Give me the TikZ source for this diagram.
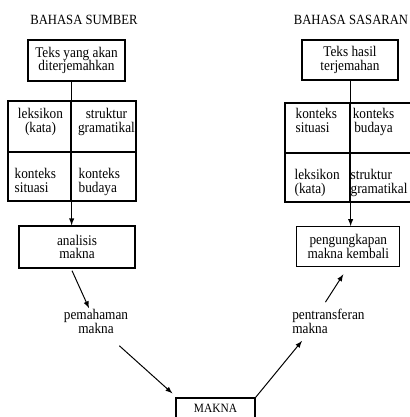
\documentclass[tikz,border=0pt]{standalone}
\usepackage{fontspec}
\setmainfont[FakeStretch=0.9]{Liberation Serif}
\usetikzlibrary{calc}
\begin{document}
\begin{tikzpicture}[x=0.025cm,y=-0.025cm,
        box/.style={draw,line width=0.9pt,align=center,inner sep=0pt,font=\fontsize{10.5}{9.7}\selectfont},
        cell/.style={draw,line width=0.9pt,inner sep=0pt},
        txt/.style={inner sep=0pt,font=\fontsize{10.5}{9.7}\selectfont},
        title/.style={inner sep=0pt,font=\fontsize{10}{10}\selectfont},
        arr/.style={->,>=latex,line width=0.7pt}]
    \useasboundingbox (0,0) rectangle (410,417);
    \clip (0,0) rectangle (410,417);
    % bahasa sumber
    \node[title] (bs) at (84,20) {BAHASA SUMBER};
    \node[box,minimum width=2.425cm,minimum height=1.025cm] (tsa) at (76.5,60.5) {Teks yang akan\\diterjemahkan};
    \node[cell,minimum width=1.575cm,minimum height=1.275cm] (s11) at (39.5,126.5) {};
    \node[cell,minimum width=1.625cm,minimum height=1.275cm] (s12) at (103.5,126.5) {};
    \node[cell,minimum width=1.575cm,minimum height=1.225cm] (s21) at (39.5,176.5) {};
    \node[cell,minimum width=1.625cm,minimum height=1.225cm] (s22) at (103.5,176.5) {};
    \node[txt,align=center,anchor=north] (lk1) at ($(s11.north)+(1,8)$) {leksikon\\(kata)};
    \node[txt,align=center,anchor=north] (sg1) at ($(s12.north)+(3,8)$) {struktur\\gramatikal};
    \node[txt,align=left,anchor=north west] (ks1) at ($(s21.north west)+(7,17)$) {konteks\\situasi};
    \node[txt,align=left,anchor=north west] (kb1) at ($(s22.north west)+(8,17)$) {konteks\\budaya};
    \node[box,minimum width=2.9cm,minimum height=1.05cm] (ana) at (77,247) {analisis\\makna};
    \node[txt,align=center] (pem) at (96,321.5) {pemahaman\\makna};
    % makna
    \node[box,font=\fontsize{9}{9}\selectfont,minimum width=1.975cm,minimum height=0.525cm] (mak) at (215.5,408.5) {MAKNA};
    % bahasa sasaran
    \node[title] (bsa) at (351,20) {BAHASA SASARAN};
    \node[box,minimum width=2.4cm,minimum height=1cm] (tth) at (350,60) {Teks hasil\\terjemahan};
    \node[cell,minimum width=1.625cm,minimum height=1.25cm] (t11) at (317.5,128) {};
    \node[cell,minimum width=1.625cm,minimum height=1.25cm] (t12) at (382.5,128) {};
    \node[cell,minimum width=1.625cm,minimum height=1.225cm] (t21) at (317.5,177.5) {};
    \node[cell,minimum width=1.625cm,minimum height=1.225cm] (t22) at (382.5,177.5) {};
    \node[txt,align=left,anchor=north west] (ks2) at ($(t11.north west)+(11,6)$) {konteks\\situasi};
    \node[txt,align=center,anchor=north] (kb2) at ($(t12.north)+(-9,6)$) {konteks\\budaya};
    \node[txt,align=left,anchor=north west] (lk2) at ($(t21.north west)+(10,17)$) {leksikon\\(kata)};
    \node[txt,align=left,anchor=north west] (sg2) at ($(t22.north west)+(1,17)$) {struktur\\gramatikal};
    \node[box,minimum width=2.575cm,minimum height=1cm] (pkb) at (348.3,246.7) {pengungkapan\\makna kembali};
    \node[txt,align=left,anchor=west] (pen) at (292,321.5) {pentransferan\\makna};
    % arrows
    \draw[arr] (s11.north east |- tsa.south) -- (s21.south east |- ana.north);
    \draw[arr] ($(ana.south)+(-5,2)$) -- ($(pem.north)+(-7,-1)$);
    \draw[arr] ($(pem.south east)+(-9,12)$) -- ($(mak.north west)+(-3,-4)$);
    \draw[arr] (mak.north east) -- ($(pen.south west)+(10,7)$);
    \draw[arr] ($(pen.north)+(-3,-7)$) -- ($(pkb.south)+(-5,7)$);
    \draw[arr] (t11.north east |- tth.south) -- (t21.south east |- pkb.north);
\end{tikzpicture}
\end{document}
